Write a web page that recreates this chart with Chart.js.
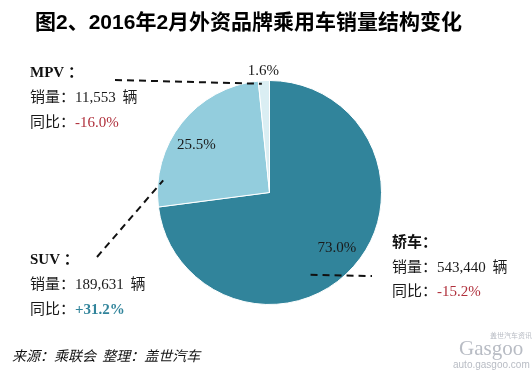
<!DOCTYPE html>
<html lang="zh">
<head>
  <meta charset="UTF-8">
  <title>2016年2月外资品牌乘用车销量结构变化</title>
  <script src="https://cdn.jsdelivr.net/npm/chart.js@4"></script>
  <style>
    html, body { margin: 0; padding: 0; background: #fff; }
    #wrap { width: 532px; height: 371px; position: relative; }
  </style>
</head>
<body>
<div id="wrap">
  <canvas id="pieChart" width="532" height="371"></canvas>
</div>

<script>
  // chart data
  const categories = ['轿车', 'SUV', 'MPV'];
  const shares = [73.0, 25.5, 1.6];
  const shareLabels = ['73.0%', '25.5%', '1.6%'];
  const sales = ['543,440', '189,631', '11,553'];
  const yoy = ['-15.2%', '+31.2%', '-16.0%'];
  const colors = ['#31849B', '#93CDDD', '#DAEEF3'];

  const serif = "'Liberation Serif', 'Noto Sans CJK SC', serif";
  const cjk = "'Noto Sans CJK SC', sans-serif";

  // draw text made of several pieces with different fonts / colours
  function drawParts(ctx, x, y, parts) {
    parts.forEach(p => {
      ctx.font = p.font;
      ctx.fillStyle = p.color || '#1a1a1a';
      ctx.fillText(p.text, x, y);
      x += ctx.measureText(p.text).width;
    });
  }

  function infoBlock(ctx, x, y, idx, name, yoyColor, yoyBold) {
    drawParts(ctx, x, y, [
      { text: name + ' ', font: 'bold 15px ' + serif, color: '#111' },
      { text: '：', font: 'bold 15px ' + cjk, color: '#111' }
    ]);
    drawParts(ctx, x, y + 25, [
      { text: '销量：', font: '15px ' + cjk },
      { text: sales[idx], font: '15px ' + serif },
      { text: '  辆', font: '15px ' + cjk }
    ]);
    drawParts(ctx, x, y + 50, [
      { text: '同比：', font: '15px ' + cjk },
      { text: yoy[idx], font: (yoyBold ? 'bold ' : '') + '15px ' + serif, color: yoyColor }
    ]);
  }

  const annotations = {
    id: 'annotations',
    afterDatasetsDraw(chart) {
      const ctx = chart.ctx;
      const arcs = chart.getDatasetMeta(0).data;
      const cx = arcs[0].x, cy = arcs[0].y, R = arcs[0].outerRadius;
      const pt = (ang, r) => [cx + Math.cos(ang * Math.PI / 180) * r, cy + Math.sin(ang * Math.PI / 180) * r];

      ctx.save();
      // percentage labels
      ctx.textAlign = 'center';
      ctx.textBaseline = 'middle';
      ctx.font = '15px ' + serif;
      ctx.fillStyle = '#1a1a1a';
      arcs.forEach((arc, i) => {
        const mid = (arc.startAngle + arc.endAngle) / 2;
        const r = i === 2 ? R + 10 : R * 0.78;
        const shift = i === 1 ? -0.09 : (i === 0 ? -0.03 : 0);
        ctx.fillText(shareLabels[i], cx + Math.cos(mid + shift) * r, cy + Math.sin(mid + shift) * r);
      });

      // leader lines
      ctx.strokeStyle = '#111';
      ctx.lineWidth = 2;
      ctx.setLineDash([7, 5]);
      const line = (a, b) => { ctx.beginPath(); ctx.moveTo(a[0], a[1]); ctx.lineTo(b[0], b[1]); ctx.stroke(); };
      line([115, 80], pt(-94, R - 3));
      line([97, 257], pt(186.5, R - 5));
      line(pt(63.5, R - 20), [372, 276]);
      ctx.setLineDash([]);

      // title
      ctx.textAlign = 'left';
      ctx.textBaseline = 'alphabetic';
      ctx.fillStyle = '#000';
      ctx.font = "bold 21px 'Liberation Sans', 'Noto Sans CJK SC', sans-serif";
      ctx.fillText('图2、2016年2月外资品牌乘用车销量结构变化', 35, 29);

      // info blocks
      infoBlock(ctx, 30, 77, 2, 'MPV', '#B0303C', false);
      infoBlock(ctx, 30, 264, 1, 'SUV', '#31849B', true);
      ctx.font = 'bold 15px ' + cjk;
      ctx.fillStyle = '#111';
      ctx.fillText('轿车：', 392, 247);
      drawParts(ctx, 392, 272, [
        { text: '销量：', font: '15px ' + cjk },
        { text: sales[0], font: '15px ' + serif },
        { text: '  辆', font: '15px ' + cjk }
      ]);
      drawParts(ctx, 392, 296, [
        { text: '同比：', font: '15px ' + cjk },
        { text: yoy[0], font: '15px ' + serif, color: '#B0303C' }
      ]);

      // source
      ctx.fillStyle = '#111';
      ctx.font = "italic 14px 'Noto Sans CJK SC', sans-serif";
      ctx.fillText('来源：乘联会  整理：盖世汽车', 12, 361);

      // watermark
      ctx.fillStyle = '#b8bcc4';
      ctx.font = "21px 'Liberation Serif', serif";
      ctx.fillText('Gasgoo', 459, 355);
      ctx.font = "7px 'Noto Sans CJK SC', sans-serif";
      ctx.fillText('盖世汽车资讯', 490, 338);
      ctx.font = "10px 'Liberation Sans', sans-serif";
      ctx.fillText('auto.gasgoo.com', 453, 368);
      ctx.restore();
    }
  };

  const ctx = document.getElementById('pieChart').getContext('2d');
  new Chart(ctx, {
    type: 'pie',
    data: {
      labels: categories,
      datasets: [{
        data: shares,
        backgroundColor: colors,
        borderColor: '#fff',
        borderWidth: 1
      }]
    },
    options: {
      responsive: false,
      animation: false,
      layout: { padding: { left: 157, right: 150, top: 80, bottom: 66 } },
      plugins: {
        legend: { display: false },
        tooltip: { enabled: false }
      }
    },
    plugins: [annotations]
  });
</script>
</body>
</html>
